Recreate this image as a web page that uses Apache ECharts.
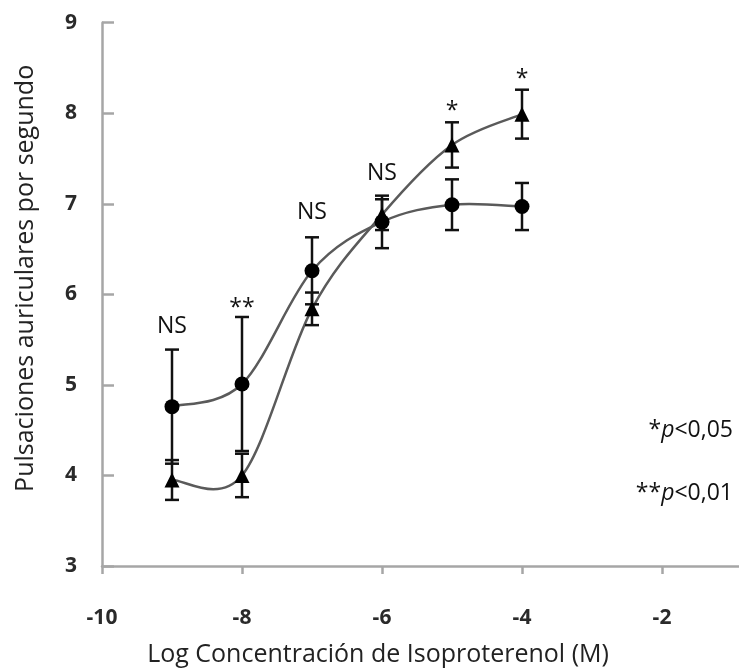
<!DOCTYPE html>
<html>
<head>
<meta charset="utf-8">
<script src="https://cdn.jsdelivr.net/npm/echarts@6/dist/echarts.min.js"></script>
<style>html,body{margin:0;padding:0;background:#fff;}#c{width:739px;height:672px;}</style>
</head>
<body>
<div id="c"></div>
<script>
// ---- data ----
const xValues = [-9, -8, -7, -6, -5, -4];
const circleMean = [4.76, 5.01, 6.26, 6.80, 6.99, 6.97];
const circleErr  = [0.63, 0.74, 0.37, 0.29, 0.28, 0.26];
const triMean    = [3.95, 4.00, 5.84, 6.88, 7.65, 7.99];
const triErr     = [0.22, 0.24, 0.18, 0.17, 0.25, 0.27];
const annotationText = ['NS', '**', 'NS', 'NS', '*', '*'];
const annotationY    = [5.64, 5.84, 6.90, 7.34, 8.02, 8.37];
const xTitle = 'Log Concentración de Isoproterenol (M)';
const yTitle = 'Pulsaciones auriculares por segundo';
const sigNotes = [['*', '<0,05'], ['**', '<0,01']];

const FONT = '"Open Sans", "Noto Sans", sans-serif';
const chart = echarts.init(document.getElementById('c'), null, {renderer: 'canvas'});

const pairs = (ys) => xValues.map((x, i) => [x, ys[i]]);
const errData = (m, e) => xValues.map((x, i) => [x, m[i] - e[i], m[i] + e[i]]);

function errRender(params, api) {
  const x = api.value(0);
  const lo = api.coord([x, api.value(1)]);
  const hi = api.coord([x, api.value(2)]);
  const w = 7;
  const st = {stroke: '#111', lineWidth: 2.5};
  return {
    type: 'group',
    children: [
      {type: 'line', shape: {x1: lo[0], y1: lo[1], x2: hi[0], y2: hi[1]}, style: st},
      {type: 'line', shape: {x1: lo[0] - w, y1: lo[1], x2: lo[0] + w, y2: lo[1]}, style: st},
      {type: 'line', shape: {x1: hi[0] - w, y1: hi[1], x2: hi[0] + w, y2: hi[1]}, style: st}
    ]
  };
}

// Smooth curve segment (Catmull-Rom as Bezier, like a spreadsheet "smoothed line")
function curveRender(ys) {
  return function (params, api) {
    const i = params.dataIndex;
    const n = xValues.length;
    if (i >= n - 1) return null;
    const P = (k) => {
      const kk = Math.max(0, Math.min(n - 1, k));
      return api.coord([xValues[kk], ys[kk]]);
    };
    const p0 = P(i - 1), p1 = P(i), p2 = P(i + 1), p3 = P(i + 2);
    return {
      type: 'bezierCurve',
      shape: {
        x1: p1[0], y1: p1[1], x2: p2[0], y2: p2[1],
        cpx1: p1[0] + (p2[0] - p0[0]) / 6, cpy1: p1[1] + (p2[1] - p0[1]) / 6,
        cpx2: p2[0] - (p3[0] - p1[0]) / 6, cpy2: p2[1] - (p3[1] - p1[1]) / 6
      },
      style: {stroke: '#5a5a5a', lineWidth: 2.5, fill: null}
    };
  };
}

function textRender(params, api) {
  const p = api.coord([api.value(0), api.value(1)]);
  return {
    type: 'text',
    x: p[0], y: p[1],
    style: {
      text: annotationText[params.dataIndex],
      fill: '#111', fontSize: 23, fontFamily: FONT,
      align: 'center', verticalAlign: 'middle'
    }
  };
}

chart.setOption({
  animation: false,
  backgroundColor: '#fff',
  grid: {left: 102, right: 0, top: 22.7, bottom: 100.3, containLabel: false},
  xAxis: {
    type: 'value', min: -10, max: -0.9, interval: 2,
    name: xTitle, nameLocation: 'middle', nameGap: 76,
    nameTextStyle: {fontSize: 25, fontFamily: FONT, color: '#222', padding: [0, 85, 0, 0]},
    axisLine: {onZero: false, lineStyle: {color: '#a6a6a6', width: 2.5}},
    axisTick: {inside: false, length: 8, lineStyle: {color: '#a6a6a6', width: 2.5}},
    axisLabel: {margin: 42, fontSize: 21, fontWeight: 'bold', fontFamily: FONT, color: '#2a2a2a',
                showMaxLabel: false},
    splitLine: {show: false}
  },
  yAxis: {
    type: 'value', min: 3, max: 9, interval: 1,
    name: yTitle, nameLocation: 'middle', nameGap: 64, nameRotate: 90,
    nameTextStyle: {fontSize: 25, fontFamily: FONT, color: '#222', padding: [0, 0, 0, 32]},
    axisLine: {onZero: false, lineStyle: {color: '#a6a6a6', width: 2.5}},
    axisTick: {inside: true, length: 12, lineStyle: {color: '#a6a6a6', width: 2.5}},
    axisLabel: {margin: 25, fontSize: 21, fontWeight: 'bold', fontFamily: FONT, color: '#2a2a2a'},
    splitLine: {show: false}
  },
  series: [
    {type: 'custom', data: pairs(circleMean), renderItem: curveRender(circleMean), z: 2, silent: true},
    {type: 'custom', data: pairs(triMean), renderItem: curveRender(triMean), z: 2, silent: true},
    {type: 'custom', data: errData(circleMean, circleErr), renderItem: errRender, z: 3},
    {type: 'custom', data: errData(triMean, triErr), renderItem: errRender, z: 3},
    {type: 'scatter', data: pairs(circleMean), symbol: 'circle', symbolSize: 15,
     itemStyle: {color: '#000', opacity: 1}, z: 4},
    {type: 'scatter', data: pairs(triMean), symbol: 'triangle', symbolSize: 15,
     itemStyle: {color: '#000', opacity: 1}, z: 4},
    {type: 'custom', data: pairs(annotationY), renderItem: textRender, z: 5}
  ],
  graphic: sigNotes.map((n, i) => ({
    type: 'text', x: 733, y: 430 + i * 63,
    style: {
      text: '{s|' + n[0] + '}{p|p}{t|' + n[1] + '}',
      align: 'right', verticalAlign: 'middle',
      rich: {
        s: {fontSize: 23, fontFamily: FONT, fill: '#111', verticalAlign: 'middle'},
        p: {fontSize: 23, fontFamily: FONT, fontStyle: 'italic', fill: '#111'},
        t: {fontSize: 23, fontFamily: FONT, fill: '#111'}
      }
    }
  }))
});
</script>
</body>
</html>
